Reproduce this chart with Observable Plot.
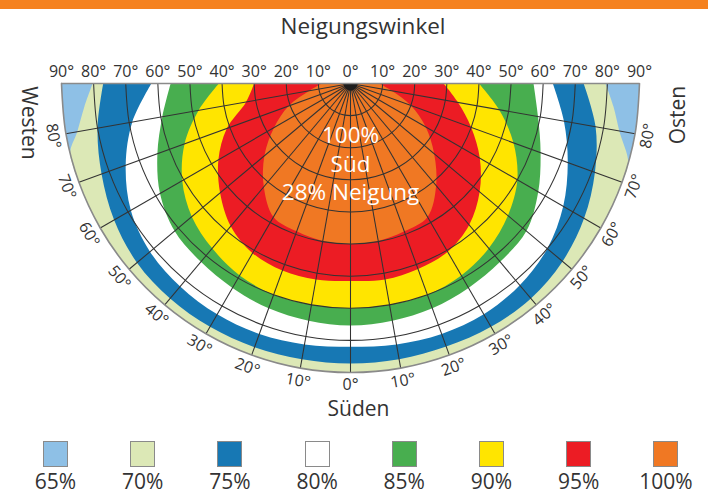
<!DOCTYPE html>
<html><head><meta charset="utf-8">
<script src="https://cdn.jsdelivr.net/npm/d3@7"></script>
<script src="https://cdn.jsdelivr.net/npm/@observablehq/plot@0.6"></script>
<style>
body{margin:0;background:#fff;font-family:"Open Sans",sans-serif;color:#333;width:708px;}
#bar{height:9px;background:#f5821f;}
#title{height:31px;line-height:33px;text-align:center;font-size:22.5px;padding-left:18px;}
#chart svg{display:block;overflow:visible;}
#legend{position:relative;height:66px;}
.item{position:absolute;top:13px;width:80px;margin-left:-40px;text-align:center;}
.sw{width:23px;height:24px;margin:0 auto;border:1.6px solid #8a8a8a;}
.lab{font-size:21px;line-height:21px;margin-top:4px;}
</style></head>
<body>
<div id="bar"></div>
<div id="title">Neigungswinkel</div>
<div id="chart"></div>
<div id="legend"></div>
<script>
// ---- data ----
const levels = ["65%","70%","75%","80%","85%","90%","95%","100%"];
const tiltTicks = [0,10,20,30,40,50,60,70,80,90];          // Neigungswinkel
const azimuthTicks = [-80,-70,-60,-50,-40,-30,-20,-10,0,10,20,30,40,50,60,70,80]; // Ausrichtung (W negative, O positive)
const rimAz = [-90,-80,-70,-60,-50,-40,-30,-20,-10,0,10,20,30,40,50,60,70,80,90];
// band boundaries: [azimuth, tilt] where the band ends
const edge65 = rimAz.map(a => [a, 90]);
const edge70 = [[-90,80.3],[-85,83.2],[-80,86.4],[-76,90],[-70,90],[-60,90],[-50,90],[-40,90],[-30,90],[-20,90],[-10,90],[0,90],[10,90],[20,90],[30,90],[40,90],[50,90],[60,90],[70,90],[74,90],[80,85],[85,82.2],[90,79.4]];
const edge75 = [[-90,77],[-80,80],[-70,82.5],[-60,85],[-50,86.8],[-40,87.4],[-30,87.5],[-20,87.4],[-10,87.2],[0,87.2],[10,87.2],[20,87.2],[30,87.5],[40,87.4],[50,86.2],[60,84],[70,81],[80,77.5],[90,72.6]];
const edge80 = [[-90,62],[-80,69],[-70,74.5],[-60,79],[-50,81.5],[-40,82.5],[-30,83],[-20,83],[-10,82.5],[0,82],[10,82.5],[20,83],[30,83],[40,82],[50,80],[60,76.5],[70,72],[80,67.5],[90,63]];
const edge85 = [[-90,56],[-80,59.5],[-70,64],[-60,68.5],[-50,71.5],[-40,72.5],[-30,73.5],[-20,74.5],[-10,75],[0,75.4],[10,75],[20,74.5],[30,73.5],[40,72.5],[50,71.5],[60,67.5],[70,63],[80,59.3],[90,57]];
const edge90 = [[-90,41],[-80,48],[-70,55],[-60,60.5],[-50,64.5],[-40,67],[-30,69],[-20,70],[-10,70],[0,70],[10,70],[20,70],[30,69],[40,67],[50,64],[60,60],[70,54],[80,47],[90,40]];
const edge95 = [[-90,30],[-80,33],[-70,41],[-60,47.5],[-50,53],[-40,58],[-30,61],[-20,62],[-10,62],[0,61.5],[10,62],[20,61.5],[30,60.5],[40,57.5],[50,52.5],[60,46.5],[70,40],[80,34],[90,29]];
const edge100 = [[-90,9],[-80,13],[-70,20.5],[-60,27.5],[-50,35],[-40,42],[-30,48],[-20,49],[-10,49.8],[0,50],[10,49.8],[20,49],[30,48],[40,41.5],[50,34],[60,27],[70,20],[80,13],[90,9]];
const centerNote = [{s:"100%", t:16.3}, {s:"Süd", t:25.2}, {s:"28% Neigung", t:34}];
const directions = [{a:-83, t:101, s:"Westen", r:90}, {a:84.5, t:102.5, s:"Osten", r:-90}, {a:1.4, t:101.5, s:"Süden", r:0}];

// ---- styles ----
const palette = ["#8ec0e6","#dce8b6","#1778b4","#ffffff","#48ae4f","#ffe500","#ec1c24","#f07823"];
const edges = [edge65, edge70, edge75, edge80, edge85, edge90, edge95, edge100];
const gridColor = "#333333", frameColor = "#8a8a8a";

const rad = Math.PI / 180;
const px = (a, t) => t * Math.sin(a * rad);
const py = (a, t) => t * Math.cos(a * rad);

const W = 708, H = 388, R = 289, top0 = 43;

const arcs = tiltTicks.slice(1, -1).flatMap(t => rimAz.map(a => ({a, t})));
const topLabels = tiltTicks.flatMap(t => t === 0 ? [t] : [-t, t]);

const chart = Plot.plot({
  width: W, height: H,
  marginTop: top0, marginBottom: H - top0 - R, marginLeft: 350 - R, marginRight: W - 350 - R,
  x: {domain: [-90, 90], axis: null},
  y: {domain: [0, 90], reverse: true, axis: null},
  style: {fontFamily: "'Open Sans', sans-serif", color: "#333", background: "transparent", overflow: "visible"},
  marks: [
    ...edges.map((e, i) => Plot.line(e, {x: d => px(d[0], d[1]), y: d => py(d[0], d[1]), fill: palette[i], stroke: "none", curve: "catmull-rom"})),
    Plot.line(rimAz, {x: a => px(a, 91.8), y: a => py(a, 91.8), stroke: "white", strokeWidth: 10, curve: "catmull-rom"}),
    Plot.line(arcs, {x: d => px(d.a, d.t), y: d => py(d.a, d.t), z: "t", stroke: gridColor, strokeWidth: 1.05, curve: "catmull-rom"}),
    Plot.link(azimuthTicks, {x1: 0, y1: 0, x2: a => px(a, 90), y2: a => py(a, 90), stroke: gridColor, strokeWidth: 1.05}),
    Plot.line(rimAz, {x: a => px(a, 2.2), y: a => py(a, 2.2), fill: "#1e1e1e", stroke: "none", curve: "catmull-rom"}),
    Plot.line(rimAz, {x: a => px(a, 90), y: a => py(a, 90), stroke: frameColor, strokeWidth: 1.6, curve: "catmull-rom"}),
    Plot.ruleY([0], {x1: -90, x2: 90, stroke: frameColor, strokeWidth: 1.6}),
    Plot.text(topLabels, {x: d => d, y: 0, text: d => `${Math.abs(d)}°`, dy: -12, fontSize: 16, fill: "#333"}),
    Plot.text(azimuthTicks, {x: a => px(a, 94), y: a => py(a, 94), rotate: a => -a, text: a => `${Math.abs(a)}°`, fontSize: 16, fill: "#333"}),
    Plot.text(directions, {x: d => px(d.a, d.t), y: d => py(d.a, d.t), rotate: "r", text: "s", fontSize: 21, fill: "#333"}),
    Plot.text(centerNote, {x: 0, y: "t", text: "s", fill: "white", fontSize: 22.5})
  ]
});
document.getElementById("chart").append(chart);

const lg = document.getElementById("legend");
levels.forEach((l, i) => {
  const it = document.createElement("div");
  it.className = "item";
  it.style.left = (55.5 + i * 87.2) + "px";
  it.innerHTML = `<div class="sw" style="background:${palette[i]}"></div><div class="lab">${l}</div>`;
  lg.append(it);
});
</script>
</body></html>
